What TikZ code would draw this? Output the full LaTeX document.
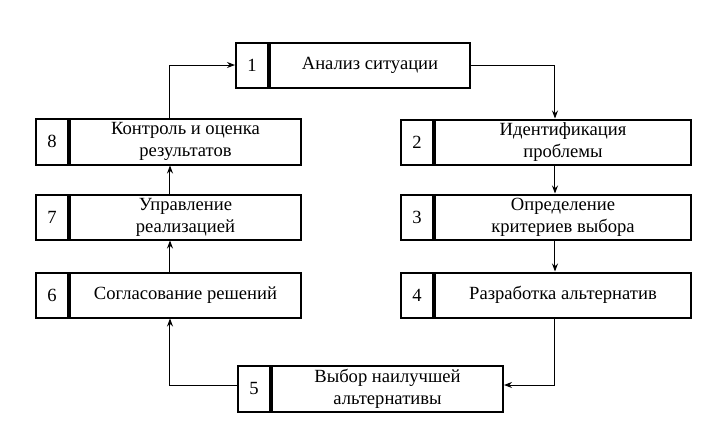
\documentclass[tikz,border=0pt]{standalone}
\usepackage{fontspec}
\setmainfont{Liberation Serif}
\usetikzlibrary{positioning,arrows.meta}
\tikzset{
  numc/.style={draw, line width=1pt, minimum width=16pt, inner sep=0pt, anchor=west},
  txtc/.style={draw, line width=1pt, inner sep=1pt, align=center, right=0pt of #1},
  link/.style={line width=0.5pt, -{Stealth[length=4pt,width=3pt]}}
}
\begin{document}
\begin{tikzpicture}[x=0.5pt,y=-0.5pt,font=\fontsize{9.3}{11}\selectfont]
  \useasboundingbox (0,0) rectangle (720,440);
  % ------ boxes ---------------
  \node[numc, minimum height=22.5pt] (n1) at (235,65) {1};
  \node[txtc=n1, minimum width=100pt, minimum height=22.5pt] (b1) {Анализ ситуации};
  \node[numc, minimum height=22.5pt] (n2) at (400,142) {2};
  \node[txtc=n2, minimum width=128pt, minimum height=22.5pt] (b2) {Идентификация\\проблемы};
  \node[numc, minimum height=22.5pt] (n3) at (400,217) {3};
  \node[txtc=n3, minimum width=128pt, minimum height=22.5pt] (b3) {Определение\\критериев выбора};
  \node[numc, minimum height=22.5pt] (n4) at (400,295) {4};
  \node[txtc=n4, minimum width=128pt, minimum height=22.5pt] (b4) {Разработка альтернатив};
  \node[numc, minimum height=23pt] (n5) at (237,388.5) {5};
  \node[txtc=n5, minimum width=115.5pt, minimum height=23pt] (b5) {Выбор наилучшей\\альтернативы};
  \node[numc, minimum height=22.5pt] (n6) at (35,295) {6};
  \node[txtc=n6, minimum width=115.5pt, minimum height=22.5pt] (b6) {Согласование решений};
  \node[numc, minimum height=22.5pt] (n7) at (35,217) {7};
  \node[txtc=n7, minimum width=115.5pt, minimum height=22.5pt] (b7) {Управление\\реализацией};
  \node[numc, minimum height=23pt] (n8) at (35,141.5) {8};
  \node[txtc=n8, minimum width=115.5pt, minimum height=23pt] (b8) {Контроль и оценка\\результатов};
  % ------ links ---------------
  \coordinate (c1) at (555,65);
  \coordinate (c4) at (555,385);
  \coordinate (c5) at (170,385);
  \coordinate (c8) at (170,65);
  \draw[link] (b1.east) -- (c1) -- (c1 |- b2.north);
  \draw[link] (c1 |- b2.south) -- (c1 |- b3.north);
  \draw[link] (c1 |- b3.south) -- (c1 |- b4.north);
  \draw[link] (c1 |- b4.south) -- (c4) -- (c4 -| b5.east);
  \draw[link] (c5 -| n5.west) -- (c5) -- (c5 |- b6.south);
  \draw[link] (c5 |- b6.north) -- (c5 |- b7.south);
  \draw[link] (c5 |- b7.north) -- (c5 |- b8.south);
  \draw[link] (c5 |- b8.north) -- (c8) -- (n1.west);
\end{tikzpicture}
\end{document}
